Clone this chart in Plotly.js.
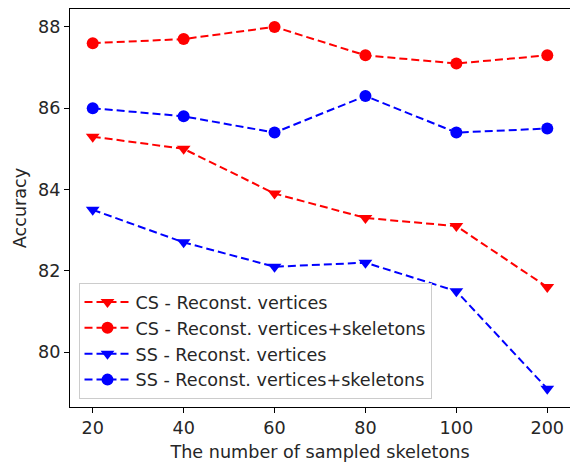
<!DOCTYPE html>
<html>
<head>
<meta charset="utf-8">
<script src="https://cdn.plot.ly/plotly-3.0.1.min.js"></script>
<style>html,body{margin:0;padding:0;background:#fff;}#chart{width:570px;height:463px;}</style>
</head>
<body>
<div id="chart"></div>
<script>
const categories = ["20", "40", "60", "80", "100", "200"];
const csVertices = [85.3, 85.0, 83.9, 83.3, 83.1, 81.6];
const csVertSkel = [87.6, 87.7, 88.0, 87.3, 87.1, 87.3];
const ssVertices = [83.5, 82.7, 82.1, 82.2, 81.5, 79.1];
const ssVertSkel = [86.0, 85.8, 85.4, 86.3, 85.4, 85.5];
const seriesNames = [
  "CS - Reconst. vertices",
  "CS - Reconst. vertices+skeletons",
  "SS - Reconst. vertices",
  "SS - Reconst. vertices+skeletons"
];
const xIdx = categories.map((_, i) => i);

function tr(y, name, color, symbol, size) {
  return {
    x: xIdx, y: y, name: name, type: 'scatter', mode: 'lines+markers',
    line: {color: color, width: 2, dash: '8px,4px'},
    marker: {color: color, symbol: symbol, size: size}
  };
}
const data = [
  tr(csVertices, seriesNames[0], '#ff0000', 'triangle-down', 12),
  tr(csVertSkel, seriesNames[1], '#ff0000', 'circle', 12),
  tr(ssVertices, seriesNames[2], '#0000ff', 'triangle-down', 12),
  tr(ssVertSkel, seriesNames[3], '#0000ff', 'circle', 12)
];
const F = {family: 'DejaVu Sans', size: 17.6, color: '#262626'};
const layout = {
  width: 570, height: 463,
  margin: {l: 70, r: 0, t: 9, b: 56},
  paper_bgcolor: '#fff', plot_bgcolor: '#fff',
  font: F,
  showlegend: true,
  legend: {
    x: 0.017, y: 0.02, xanchor: 'left', yanchor: 'bottom',
    bgcolor: 'rgba(255,255,255,0.8)', bordercolor: '#cccccc', borderwidth: 1,
    font: F, tracegroupgap: 0, itemwidth: 46
  },
  xaxis: {
    range: [-0.25, 5.25], tickmode: 'array', tickvals: xIdx, ticktext: categories,
    showgrid: false, zeroline: false, showline: true, linecolor: '#000', linewidth: 1,
    mirror: true, ticks: 'outside', ticklen: 5, tickcolor: '#000',
    title: {text: 'The number of sampled skeletons', font: F, standoff: 8},
    tickfont: F
  },
  yaxis: {
    range: [78.65, 88.44], tickvals: [80, 82, 84, 86, 88],
    showgrid: false, zeroline: false, showline: true, linecolor: '#000', linewidth: 1,
    mirror: true, ticks: 'outside', ticklen: 5, tickcolor: '#000',
    title: {text: 'Accuracy', font: F, standoff: 6},
    tickfont: F
  }
};
Plotly.newPlot('chart', data, layout, {displayModeBar: false, staticPlot: true});
</script>
</body>
</html>
